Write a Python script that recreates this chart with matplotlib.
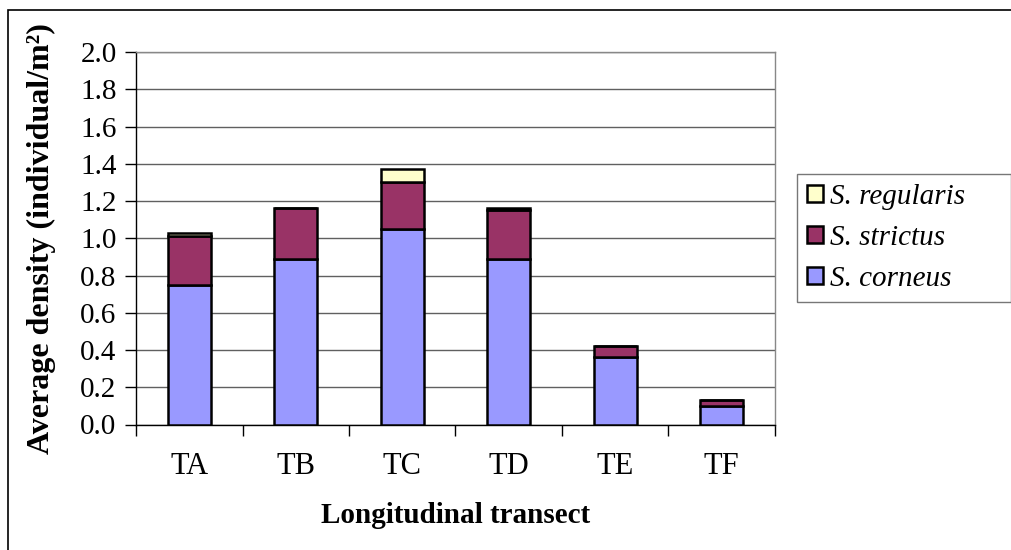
import numpy as np
import matplotlib.pyplot as plt
from matplotlib.patches import Rectangle

plt.rcParams['font.family'] = ['Liberation Serif', 'DejaVu Serif']

# data
transects = ['TA', 'TB', 'TC', 'TD', 'TE', 'TF']
s_corneus = [0.75, 0.89, 1.05, 0.89, 0.36, 0.10]
s_strictus = [0.26, 0.27, 0.25, 0.26, 0.06, 0.03]
s_regularis = [0.02, 0.00, 0.07, 0.01, 0.00, 0.00]

c_corneus = '#9999FF'
c_strictus = '#993366'
c_regularis = '#FFFFCC'

fig = plt.figure(figsize=(10.12, 5.5), dpi=100)
# outer chart border (Excel style)
fig.add_artist(Rectangle((8 / 1012, -0.05), 1.2, (550 - 10) / 550 + 0.05,
                         transform=fig.transFigure, fill=False,
                         edgecolor='black', linewidth=1.2))

ax = fig.add_axes([136 / 1012, (550 - 424.5) / 550, 639 / 1012, 372.5 / 550])

x = np.arange(len(transects))
bottom2 = np.array(s_corneus)
bottom3 = bottom2 + np.array(s_strictus)
kw = dict(width=0.4, edgecolor='black', linewidth=1.8, zorder=3)
b1 = ax.bar(x, s_corneus, color=c_corneus, **kw)
b2 = ax.bar(x, s_strictus, bottom=bottom2, color=c_strictus, **kw)
b3 = ax.bar(x, s_regularis, bottom=bottom3, color=c_regularis, **kw)

ax.set_xlim(-0.5, len(transects) - 0.5)
ax.set_ylim(0, 2.0)
ax.set_yticks(np.arange(0, 2.01, 0.2))
ax.set_yticklabels(['%.1f' % v for v in np.arange(0, 2.01, 0.2)])
ax.set_xticks(x)
ax.set_xticklabels(transects)
ax.set_xticks(np.arange(-0.5, len(transects)), minor=True)
ax.tick_params(axis='x', which='major', length=0, pad=20, labelsize=22)
ax.tick_params(axis='x', which='minor', length=8, width=1, direction='out')
ax.tick_params(axis='y', length=8, width=1, direction='out', pad=6, labelsize=21)

ax.grid(axis='y', color='#606060', linewidth=1, zorder=0)
ax.spines['left'].set_color('black')
ax.spines['bottom'].set_color('black')
ax.spines['top'].set_color('#888888')
ax.spines['right'].set_color('#888888')
for s in ax.spines.values():
    s.set_linewidth(1)

ax.set_xlabel('Longitudinal transect', fontsize=21, fontweight='bold', labelpad=15)
ax.set_ylabel('Average density (individual/m²)', fontsize=23, fontweight='bold', labelpad=17)

leg = ax.legend([b3, b2, b1], ['S. regularis', 'S. strictus', 'S. corneus'],
                loc='upper left',
                bbox_to_anchor=(797 / 1012, (550 - 300) / 550, 214 / 1012, 126 / 550),
                bbox_transform=fig.transFigure, mode='expand',
                prop={'style': 'italic', 'size': 21}, frameon=True, fancybox=False,
                edgecolor='#555555', handlelength=0.55, handleheight=0.55,
                handletextpad=0.25, borderpad=0.33, labelspacing=0.52,
                borderaxespad=0)
leg.get_frame().set_linewidth(1)

fig.savefig('out.png', dpi=100)
